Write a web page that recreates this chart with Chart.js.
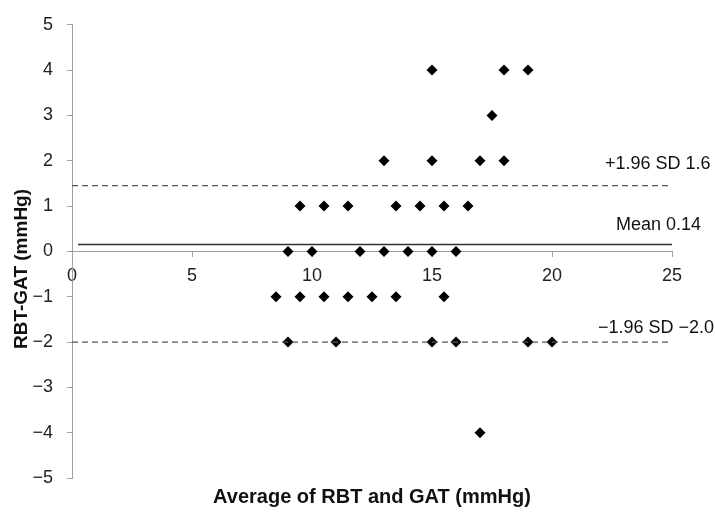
<!DOCTYPE html>
<html>
<head>
<meta charset="utf-8">
<script src="https://cdn.jsdelivr.net/npm/chart.js@4"></script>
<style>
  html, body { margin: 0; padding: 0; background: #fff; }
  #wrap { width: 715px; height: 518px; }
</style>
</head>
<body>
<div id="wrap"><canvas id="baChart"></canvas></div>
<script>
// average of the two methods (x) and their difference (y)
var avgValues = [15, 18, 19, 17.5, 13, 15, 17, 18,
    9.5, 10.5, 11.5, 13.5, 14.5, 15.5, 16.5,
    9, 10, 12, 13, 14, 15, 16,
    8.5, 9.5, 10.5, 11.5, 12.5, 13.5, 15.5,
    9, 11, 15, 16, 19, 20, 17];
var diffValues = [4, 4, 4, 3, 2, 2, 2, 2,
    1, 1, 1, 1, 1, 1, 1,
    0, 0, 0, 0, 0, 0, 0,
    -1, -1, -1, -1, -1, -1, -1,
    -2, -2, -2, -2, -2, -2, -4];

var meanDiff = 0.15;
var upperLimit = 1.45;
var lowerLimit = -2.0;
var lineLabels = ['+1.96 SD 1.6', 'Mean 0.14', '\u22121.96 SD \u22122.0'];
var xRange = [0, 25];
var yRange = [-5, 5];

var FONT = '"Liberation Sans", Arial, sans-serif';

var points = avgValues.map(function(v, i) { return { x: v, y: diffValues[i] }; });

function hLine(y, start) {
    return [{ x: start, y: y }, { x: xRange[1], y: y }];
}

// text beside the reference lines and the rotated y title
var textPlugin = {
    id: 'extraText',
    afterDatasetsDraw: function(chart) {
        var ctx = chart.ctx;
        var xs = chart.scales.x, ys = chart.scales.y;
        var right = xs.getPixelForValue(xRange[1]);
        var items = [
            { text: lineLabels[0], y: ys.getPixelForValue(upperLimit) - 22, dx: -67 },
            { text: lineLabels[1], y: ys.getPixelForValue(meanDiff) - 20, dx: -56 },
            { text: lineLabels[2], y: ys.getPixelForValue(lowerLimit) - 14, dx: -74 }
        ];
        ctx.save();
        ctx.font = '18px ' + FONT;
        ctx.fillStyle = '#111';
        ctx.textAlign = 'left';
        ctx.textBaseline = 'middle';
        items.forEach(function(it) {
            ctx.fillText(it.text, right + it.dx, it.y);
        });

        ctx.translate(22, 269);
        ctx.rotate(-Math.PI / 2);
        ctx.textAlign = 'center';
        ctx.font = 'bold 19px ' + FONT;
        ctx.fillText('RBT-GAT (mmHg)', 0, 0);
        ctx.restore();
    }
};

var ctx = document.getElementById('baChart');

new Chart(ctx, {
    type: 'scatter',
    data: {
        datasets: [
            {
                data: hLine(meanDiff, 0.25),
                showLine: true,
                borderColor: '#333',
                borderWidth: 1.5,
                pointRadius: 0
            },
            {
                data: hLine(upperLimit, xRange[0]),
                showLine: true,
                borderColor: '#555',
                borderWidth: 1.2,
                borderDash: [6, 4],
                pointRadius: 0
            },
            {
                data: hLine(lowerLimit, xRange[0]),
                showLine: true,
                borderColor: '#555',
                borderWidth: 1.2,
                borderDash: [6, 4],
                pointRadius: 0
            },
            {
                data: points,
                pointStyle: 'rectRot',
                pointRadius: 5.5,
                backgroundColor: '#000',
                borderColor: '#000',
                borderWidth: 0
            }
        ]
    },
    options: {
        responsive: true,
        maintainAspectRatio: false,
        animation: false,
        layout: {
            padding: { top: 17, right: 43, left: 0, bottom: 5 }
        },
        plugins: {
            legend: { display: false },
            tooltip: { enabled: false },
            title: {
                display: true,
                position: 'bottom',
                fullSize: false,
                text: 'Average of RBT and GAT (mmHg)',
                color: '#111',
                font: { family: FONT, size: 20, weight: 'bold' },
                padding: { top: 7, bottom: 4 }
            }
        },
        scales: {
            x: {
                type: 'linear',
                min: xRange[0],
                max: xRange[1],
                position: { y: 0 },
                grid: {
                    drawOnChartArea: false,
                    drawTicks: true,
                    tickLength: 5,
                    color: '#a0a0a0'
                },
                border: { color: '#a0a0a0' },
                ticks: {
                    stepSize: 5,
                    padding: 9,
                    color: '#222',
                    font: { family: FONT, size: 18 }
                }
            },
            y: {
                min: yRange[0],
                max: yRange[1],
                afterFit: function(scale) { scale.width = 72; },
                grid: {
                    drawOnChartArea: false,
                    drawTicks: true,
                    tickLength: 5,
                    color: '#a0a0a0'
                },
                border: { color: '#a0a0a0' },
                ticks: {
                    stepSize: 1,
                    padding: 14,
                    color: '#222',
                    font: { family: FONT, size: 18 },
                    callback: function(v) { return String(v).replace('-', '\u2212'); }
                }
            }
        }
    },
    plugins: [textPlugin]
});
</script>
</body>
</html>
